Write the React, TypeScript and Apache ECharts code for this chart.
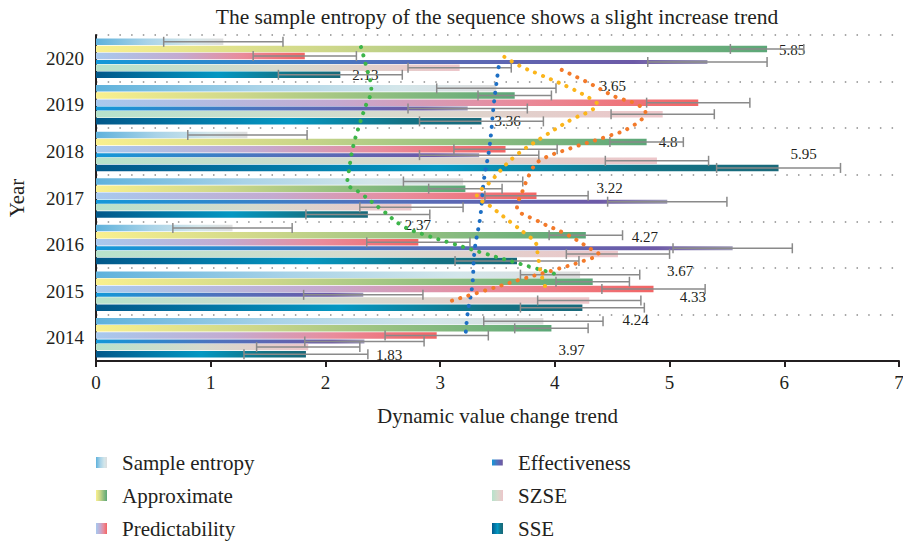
import React, { useEffect, useRef } from 'react';
import * as echarts from 'echarts';

const FONT = "'Liberation Serif', 'Times New Roman', serif";

const years = ['2014', '2015', '2016', '2017', '2018', '2019', '2020'];
const seriesNames = ['Sample entropy', 'Approximate', 'Predictability', 'Effectiveness', 'SZSE', 'SSE'];

const sampleEntropy = [3.9, 4.22, 1.19, 3.2, 1.32, 3.49, 1.11];
const approximate = [3.97, 4.33, 4.27, 3.22, 4.8, 3.65, 5.85];
const predictability = [2.97, 4.86, 2.81, 3.84, 3.57, 5.25, 1.82];
const effectiveness = [2.34, 2.33, 5.55, 4.98, 3.34, 3.24, 5.33];
const szse = [1.85, 4.3, 4.55, 2.75, 4.89, 4.94, 3.17];
const sse = [1.83, 4.24, 3.67, 2.37, 5.95, 3.36, 2.13];
const errorSizes = [0.52, 0.32, 0.45, 0.52, 0.45, 0.54];

const xTicks = { min: 0, max: 7, interval: 1 };

// trend curves [value, position on the year scale]
const greenTrend = [
  [2.31, 6.74], [2.35, 6.38], [2.4, 5.82], [2.35, 5.47], [2.3, 5.1], [2.24, 4.59], [2.2, 4.01],
  [2.19, 3.83], [2.31, 3.6], [2.49, 3.25], [2.68, 2.89], [2.89, 2.69], [3.11, 2.52], [3.4, 2.3],
  [3.69, 2.09], [4.06, 1.83],
];
const blueTrend = [
  [3.51, 6.31], [3.47, 5.56], [3.43, 4.59], [3.38, 3.86], [3.35, 3.1], [3.3, 2.37], [3.28, 1.62],
  [3.24, 1.03], [3.22, 0.5],
];
const yellowTrend = [
  [3.56, 6.53], [3.7, 6.33], [3.84, 6.18], [4.12, 5.88], [4.32, 5.62], [4.37, 5.51], [4.3, 5.36],
  [4.15, 5.19], [3.89, 4.8], [3.64, 4.37], [3.43, 3.83], [3.32, 3.55], [3.44, 3.32], [3.62, 2.97],
  [3.74, 2.74], [3.84, 2.5], [3.85, 2.3], [3.88, 1.87], [3.92, 1.57],
];
const orangeTrend = [
  [4.06, 6.25], [4.28, 5.99], [4.54, 5.66], [4.69, 5.54], [4.79, 5.34], [4.66, 5.02], [4.43, 4.8],
  [4.14, 4.57], [3.86, 4.29], [3.78, 4.01], [3.72, 3.66], [3.67, 3.3], [3.84, 3.02], [4.11, 2.71],
  [4.31, 2.41], [4.38, 2.3], [4.25, 2.15], [4.03, 1.98], [3.73, 1.77], [3.44, 1.55], [3.07, 1.27],
];

// label placement (pixels) for value labels, per year 2014..2020
const approxLabelOffsets = [[7, 22], [87, 15], [46, 2], [131, -1], [12, 0], [85, -10], [12, 1]];
const sseLabelOffsets = [[70, 1], [40, 12], [150, 10], [37, 10], [12, -14], [13, 0], [12, 0]];

const barWidths = [6.5, 6.5, 6.5, 4, 6.5, 6.5];
const BAR_GAP = 0.1;

const gradientStops: [number, string][][] = [
  [[0, '#5fb2dc'], [0.4, '#a9d3e8'], [0.75, '#d3e6ea'], [1, '#dedede']],
  [[0, '#f9f08e'], [0.35, '#cdd78a'], [0.7, '#8dbd80'], [1, '#5ca778']],
  [[0, '#a7c9ee'], [0.4, '#c4aad0'], [0.7, '#e98b9b'], [1, '#f26565']],
  [[0, '#1398d8'], [0.45, '#4f72bd'], [0.88, '#6d5aa7'], [1, '#9c98b6']],
  [[0, '#b7e2cb'], [0.5, '#d6dacd'], [1, '#edc6ca']],
  [[0, '#02588a'], [0.5, '#0497c2'], [0.8, '#137385'], [1, '#19697a']],
];

const legendPos = [
  [96, 452], [96, 485], [96, 518],
  [492, 452], [492, 485], [492, 518],
];

export default function App() {
  const ref = useRef<HTMLDivElement>(null);
  useEffect(() => {
    const chart = echarts.init(ref.current!, null, { renderer: 'svg' });
    const values = [sampleEntropy, approximate, predictability, effectiveness, szse, sse];

    // centre offsets of each bar within a category (same as ECharts' bar layout)
    let total = 0;
    barWidths.forEach((w) => { total += w * (1 + BAR_GAP); });
    total -= barWidths[barWidths.length - 1] * BAR_GAP;
    const centers: number[] = [];
    let off = -total / 2;
    barWidths.forEach((w) => { centers.push(off + w / 2); off += w * (1 + BAR_GAP); });

    const grad = (stops: [number, string][]) =>
      new echarts.graphic.LinearGradient(0, 0, 1, 0, stops.map(([o, c]) => ({ offset: o, color: c })));

    const barSeries = seriesNames.map((name, s) => {
      const offsets = s === 1 ? approxLabelOffsets : s === 5 ? sseLabelOffsets : null;
      return {
        name,
        type: 'bar',
        z: 2,
        barWidth: barWidths[s],
        barGap: BAR_GAP * 100 + '%',
        itemStyle: { color: grad(gradientStops[s]) },
        data: values[s].map((v, i) =>
          offsets
            ? { value: v, label: { show: true, offset: offsets[i] } }
            : { value: v }
        ),
        label: {
          show: false,
          position: 'right',
          distance: 0,
          fontFamily: FONT,
          fontSize: 15,
          color: '#231f20',
        },
      };
    });

    const errData: number[][] = [];
    values.forEach((arr, s) => arr.forEach((v, i) => errData.push([v, i, s, errorSizes[s]])));

    const errSeries = {
      type: 'custom',
      z: 3,
      silent: true,
      encode: { x: 0, y: 1 },
      data: errData,
      renderItem: (params: any, api: any) => {
        const v = api.value(0);
        const yi = api.value(1);
        const s = api.value(2);
        const e = api.value(3);
        const c = api.coord([v, yi]);
        const y = c[1] + centers[s];
        const x1 = api.coord([v - e, yi])[0];
        const x2 = api.coord([v + e, yi])[0];
        const st = { stroke: '#8a8a8a', lineWidth: 1.5 };
        return {
          type: 'group',
          children: [
            { type: 'line', shape: { x1, y1: y, x2, y2: y }, style: st },
            { type: 'line', shape: { x1, y1: y - 5, x2: x1, y2: y + 5 }, style: st },
            { type: 'line', shape: { x1: x2, y1: y - 5, x2, y2: y + 5 }, style: st },
          ],
        };
      },
    };

    const curve = (data: number[][], color: string) => ({
      type: 'line',
      yAxisIndex: 1,
      z: 4,
      silent: true,
      smooth: 0.4,
      showSymbol: false,
      symbol: 'none',
      data,
      lineStyle: { color, width: 4, type: [0.1, 8.5], cap: 'round' },
    });

    const legends = seriesNames.map((name, s) => ({
      data: [name],
      left: legendPos[s][0],
      top: legendPos[s][1],
      padding: 0,
      icon: 'rect',
      itemWidth: 11,
      itemHeight: s === 3 ? 6 : 11,
      selectedMode: false,
      textStyle: { fontFamily: FONT, fontSize: 21, color: '#231f20', padding: [0, 0, 0, 10], lineHeight: 20 },
    }));

    chart.setOption({
      animation: false,
      backgroundColor: '#ffffff',
      title: {
        text: 'The sample entropy of the sequence shows a slight increase trend',
        left: 497,
        textAlign: 'center',
        top: 6,
        padding: 0,
        textStyle: { fontFamily: FONT, fontSize: 21.5, fontWeight: 'normal', color: '#231f20' },
      },
      legend: legends,
      grid: { left: 96, right: 4, top: 35, bottom: 183, containLabel: false, outerBoundsMode: 'none' },
      xAxis: {
        type: 'value',
        min: xTicks.min,
        max: xTicks.max,
        interval: xTicks.interval,
        name: 'Dynamic value change trend',
        nameLocation: 'middle',
        nameGap: 44,
        nameTextStyle: { fontFamily: FONT, fontSize: 21, color: '#231f20' },
        axisLine: { show: true, lineStyle: { color: '#231f20', width: 2 } },
        axisTick: { show: true, length: 6, lineStyle: { color: '#231f20', width: 2 } },
        axisLabel: { fontFamily: FONT, fontSize: 19, color: '#231f20', margin: 12 },
        splitLine: { show: false },
      },
      yAxis: [
        {
          type: 'category',
          data: years,
          name: 'Year',
          nameLocation: 'middle',
          nameGap: 69,
          nameTextStyle: { fontFamily: FONT, fontSize: 21, color: '#231f20' },
          axisLine: { show: true, lineStyle: { color: '#231f20', width: 2 } },
          axisTick: { show: false },
          axisLabel: { fontFamily: FONT, fontSize: 19, color: '#231f20', margin: 12 },
          splitLine: { show: true, lineStyle: { color: '#8c8c8c', width: 1.5, type: [1.5, 10.2] } },
        },
        { type: 'value', min: 0, max: 7, show: false },
      ],
      series: [
        ...barSeries,
        errSeries,
        curve(greenTrend, '#3db54a'),
        curve(blueTrend, '#1d6fc4'),
        curve(yellowTrend, '#fbb51b'),
        curve(orangeTrend, '#f37a2a'),
      ],
    });
    return () => chart.dispose();
  }, []);
  return (
    <div
      ref={ref}
      style={{ position: 'fixed', left: 0, top: 0, width: 903, height: 544, background: '#fff' }}
    />
  );
}
